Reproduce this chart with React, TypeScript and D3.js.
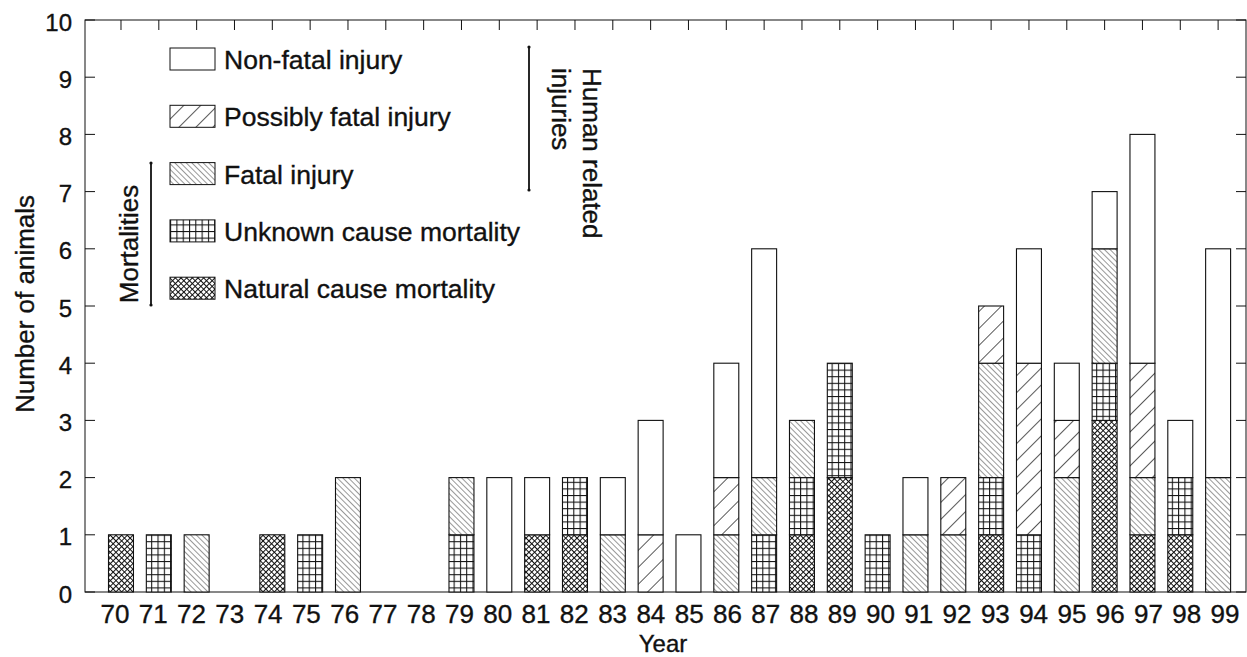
import * as d3 from "d3";

// years on the x axis (19xx)
const years = [
  "70", "71", "72", "73", "74", "75", "76", "77", "78", "79",
  "80", "81", "82", "83", "84", "85", "86", "87", "88", "89",
  "90", "91", "92", "93", "94", "95", "96", "97", "98", "99",
];

// stacked from the bottom up
const natural = [1, 0, 0, 0, 1, 0, 0, 0, 0, 0, 0, 1, 1, 0, 0, 0, 0, 0, 1, 2, 0, 0, 0, 1, 0, 0, 3, 1, 1, 0];
const unknown = [0, 1, 0, 0, 0, 1, 0, 0, 0, 1, 0, 0, 1, 0, 0, 0, 0, 1, 1, 2, 1, 0, 0, 1, 1, 0, 1, 0, 1, 0];
const fatal = [0, 0, 1, 0, 0, 0, 2, 0, 0, 1, 0, 0, 0, 1, 0, 0, 1, 1, 1, 0, 0, 1, 1, 2, 0, 2, 2, 1, 0, 2];
const possiblyFatal = [0, 0, 0, 0, 0, 0, 0, 0, 0, 0, 0, 0, 0, 0, 1, 0, 1, 0, 0, 0, 0, 0, 1, 1, 3, 1, 0, 2, 0, 0];
const nonFatal = [0, 0, 0, 0, 0, 0, 0, 0, 0, 0, 2, 1, 0, 1, 2, 1, 2, 4, 0, 0, 0, 1, 0, 0, 2, 1, 1, 4, 1, 4];

const yTicks = [0, 1, 2, 3, 4, 5, 6, 7, 8, 9, 10];

const keys = ["natural", "unknown", "fatal", "possiblyFatal", "nonFatal"];

// legend is listed top-down
const legendItems = [
  { key: "nonFatal", label: "Non-fatal injury" },
  { key: "possiblyFatal", label: "Possibly fatal injury" },
  { key: "fatal", label: "Fatal injury" },
  { key: "unknown", label: "Unknown cause mortality" },
  { key: "natural", label: "Natural cause mortality" },
];

const WIDTH = 1247;
const HEIGHT = 657;
const FRAME = { left: 85, right: 1246, top: 20, bottom: 592 };
const FONT = "Arial, 'Liberation Sans', Helvetica, sans-serif";
const INK = "#111";
// scanned text in the original is a touch heavier than a plain regular face
const TEXT_STROKE = 0.35;

const fills: { [k: string]: string } = {
  natural: "url(#pat-natural)",
  unknown: "url(#pat-unknown)",
  fatal: "url(#pat-fatal)",
  possiblyFatal: "url(#pat-possibly)",
  nonFatal: "#fff",
};

const Patterns = () => (
  <defs>
    <pattern id="pat-possibly" width={12} height={12} patternUnits="userSpaceOnUse" patternTransform="rotate(45)">
      <rect width={12} height={12} fill="#fff" />
      <line x1={0} y1={0} x2={0} y2={12} stroke={INK} strokeWidth={1.4} />
    </pattern>
    <pattern id="pat-fatal" width={4} height={4} patternUnits="userSpaceOnUse" patternTransform="rotate(-45)">
      <rect width={4} height={4} fill="#fff" />
      <line x1={0} y1={0} x2={0} y2={4} stroke="#333" strokeWidth={1} />
    </pattern>
    <pattern id="pat-unknown" width={6.3} height={6.6} patternUnits="userSpaceOnUse">
      <rect width={6.3} height={6.6} fill="#fff" />
      <line x1={0.5} y1={0} x2={0.5} y2={6.6} stroke={INK} strokeWidth={1.1} />
      <line x1={0} y1={0.5} x2={6.3} y2={0.5} stroke={INK} strokeWidth={1.1} />
    </pattern>
    <pattern id="pat-natural" width={4} height={4} patternUnits="userSpaceOnUse" patternTransform="rotate(45)">
      <rect width={4} height={4} fill="#fff" />
      <line x1={0.5} y1={0} x2={0.5} y2={4} stroke={INK} strokeWidth={1} />
      <line x1={0} y1={0.5} x2={4} y2={0.5} stroke={INK} strokeWidth={1} />
    </pattern>
  </defs>
);

const App = () => {
  const table = years.map((year, i) => ({
    year,
    natural: natural[i],
    unknown: unknown[i],
    fatal: fatal[i],
    possiblyFatal: possiblyFatal[i],
    nonFatal: nonFatal[i],
  }));

  const series = d3.stack<any>().keys(keys)(table);

  const yScale = d3.scaleLinear().domain([0, 10]).range([FRAME.bottom, FRAME.top]);

  const xScale = d3
    .scaleBand<string>()
    .domain(years)
    .range([108.5, 1230.6])
    .paddingInner(0.34)
    .paddingOuter(0);

  // tick labels in the original are spread slightly wider than the bars
  const labelScale = d3.scalePoint<string>().domain(years).range([115, 1225]);

  const bars = series.map((serie) =>
    serie.map((d, i) => {
      if (d[1] - d[0] <= 0) return null;
      return (
        <rect
          key={serie.key + i}
          x={xScale(d.data.year)}
          y={yScale(d[1])}
          width={xScale.bandwidth()}
          height={yScale(d[0]) - yScale(d[1])}
          fill={fills[serie.key]}
          stroke={INK}
          strokeWidth={1.1}
        />
      );
    })
  );

  const legendTop = 48;
  const legendStep = 57.3;

  return (
    <svg
      width={WIDTH}
      height={HEIGHT}
      style={{ position: "absolute", left: 0, top: 0, background: "#fff" }}
      fontFamily={FONT}
    >
      <Patterns />
      <rect width={WIDTH} height={HEIGHT} fill="#fff" />

      {/* frame */}
      <rect
        x={FRAME.left}
        y={FRAME.top}
        width={FRAME.right - FRAME.left}
        height={FRAME.bottom - FRAME.top}
        fill="none"
        stroke={INK}
        strokeWidth={1}
      />

      {/* y ticks, both sides */}
      {yTicks.map((t) => (
        <line key={"l" + t} x1={FRAME.left} x2={FRAME.left + 10} y1={yScale(t)} y2={yScale(t)} stroke={INK} />
      ))}
      {yTicks.map((t) => (
        <line key={"r" + t} x1={FRAME.right - 10} x2={FRAME.right} y1={yScale(t)} y2={yScale(t)} stroke={INK} />
      ))}

      {/* top ticks at each year */}
      {years.map((y) => (
        <line
          key={y}
          x1={xScale(y)! + xScale.bandwidth() / 2}
          x2={xScale(y)! + xScale.bandwidth() / 2}
          y1={FRAME.top}
          y2={FRAME.top + 10}
          stroke={INK}
        />
      ))}

      <g>{bars}</g>

      <g fill={INK} stroke={INK} strokeWidth={TEXT_STROKE}>
        {yTicks.map((t) => (
          <text key={t} x={72} y={yScale(t) + 2} textAnchor="end" dominantBaseline="central" fontSize={24}>
            {t}
          </text>
        ))}

        {/* x tick labels */}
        {years.map((y) => (
          <text key={y} x={labelScale(y)} y={623} textAnchor="middle" fontSize={26}>
            {y}
          </text>
        ))}

        <text x={663} y={652} textAnchor="middle" fontSize={24}>
          Year
        </text>
        <text transform="translate(34, 304) rotate(-90)" textAnchor="middle" fontSize={26}>
          Number of animals
        </text>

        {/* legend */}
        {legendItems.map((item, i) => {
          const top = legendTop + i * legendStep;
          return (
            <text key={item.key} x={224} y={top + 21} fontSize={26.5}>
              {item.label}
            </text>
          );
        })}

        <text transform="translate(138, 244) rotate(-90)" textAnchor="middle" fontSize={26}>
          Mortalities
        </text>
        <text transform="translate(583, 68) rotate(90)" fontSize={26}>
          Human related
        </text>
        <text transform="translate(552, 68) rotate(90)" fontSize={26}>
          injuries
        </text>
      </g>

      {legendItems.map((item, i) => (
        <rect
          key={item.key}
          x={170}
          y={legendTop + i * legendStep}
          width={45}
          height={22}
          fill={fills[item.key]}
          stroke={INK}
          strokeWidth={1}
        />
      ))}

      {/* group brackets */}
      <line x1={151} x2={151} y1={163} y2={305} stroke={INK} strokeWidth={1.8} />
      <circle cx={151} cy={163} r={1.6} fill={INK} />
      <circle cx={151} cy={305} r={1.6} fill={INK} />

      <line x1={529} x2={529} y1={47} y2={190} stroke={INK} strokeWidth={1.8} />
      <circle cx={529} cy={47} r={1.6} fill={INK} />
      <circle cx={529} cy={190} r={1.6} fill={INK} />
    </svg>
  );
};

export default App;
